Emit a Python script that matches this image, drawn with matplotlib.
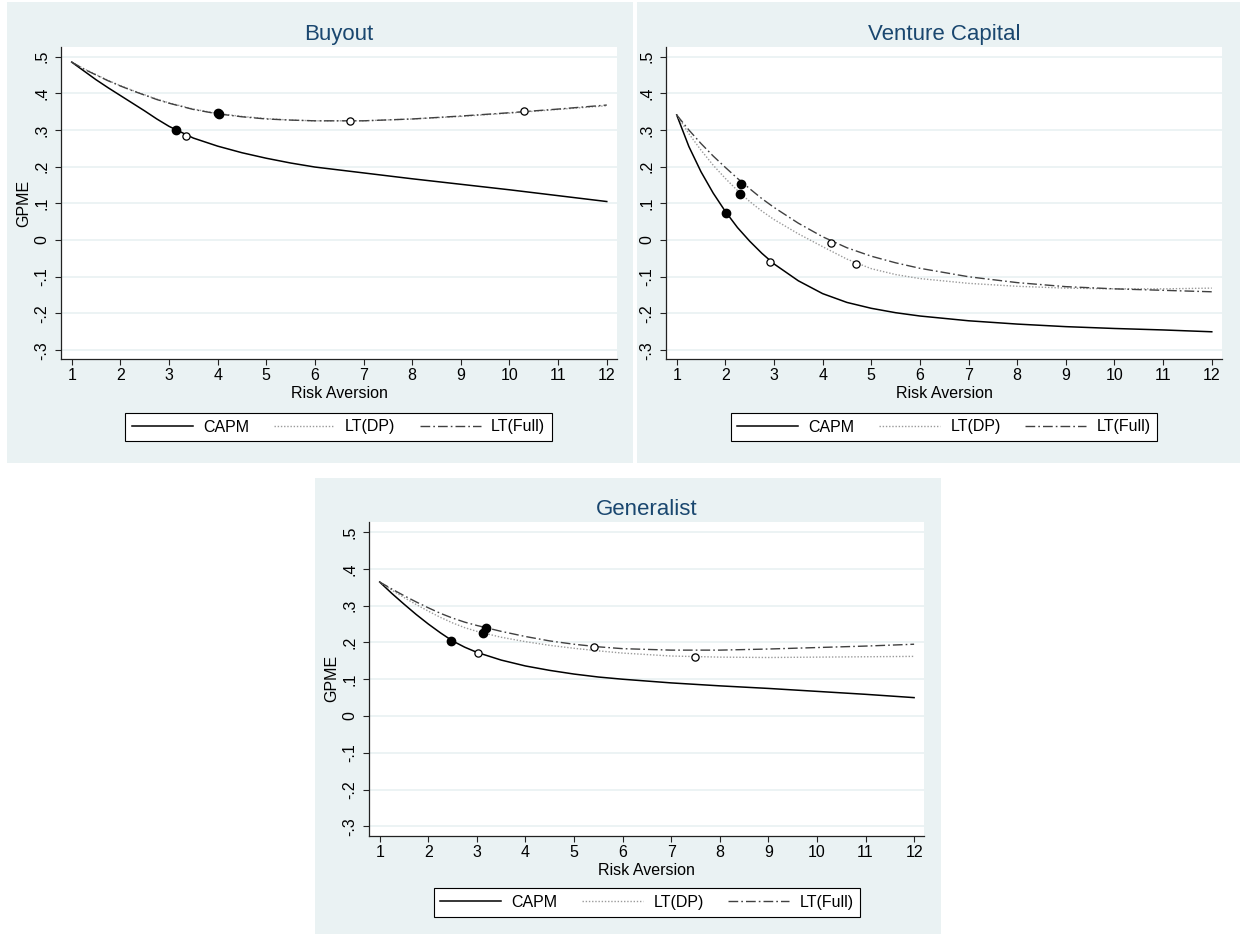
import matplotlib
matplotlib.use("Agg")
import matplotlib.pyplot as plt
from matplotlib.patches import Rectangle
from matplotlib.lines import Line2D

plt.rcParams['font.family'] = ['Liberation Sans', 'DejaVu Sans']

# ---------------- data ----------------
risk_aversion = [1, 1.25, 1.5, 1.75, 2, 2.25, 2.5, 2.75, 3, 3.5, 4, 4.5, 5, 5.5, 6, 7, 8, 9, 10, 11, 12]

buyout_capm = [0.485, 0.461, 0.437, 0.415, 0.394, 0.373, 0.352, 0.330, 0.310, 0.278, 0.256, 0.238, 0.223, 0.210, 0.199,
               0.183, 0.167, 0.152, 0.137, 0.121, 0.105]
buyout_dp   = [0.485, 0.467, 0.451, 0.435, 0.421, 0.408, 0.396, 0.384, 0.374, 0.357, 0.345, 0.337, 0.331, 0.327, 0.325,
               0.325, 0.330, 0.337, 0.346, 0.356, 0.366]
buyout_full = [0.485, 0.466, 0.450, 0.434, 0.420, 0.407, 0.395, 0.383, 0.373, 0.356, 0.344, 0.336, 0.330, 0.327, 0.325,
               0.325, 0.330, 0.338, 0.347, 0.357, 0.368]

vc_capm = [0.341, 0.255, 0.186, 0.128, 0.078, 0.034, -0.003, -0.036, -0.065, -0.111, -0.146, -0.170, -0.186, -0.198, -0.207,
           -0.220, -0.229, -0.236, -0.241, -0.245, -0.250]
vc_dp   = [0.341, 0.290, 0.245, 0.204, 0.168, 0.135, 0.105, 0.079, 0.056, 0.017, -0.018, -0.052, -0.078, -0.094, -0.105,
           -0.118, -0.126, -0.131, -0.133, -0.133, -0.131]
vc_full = [0.341, 0.300, 0.263, 0.229, 0.198, 0.168, 0.140, 0.113, 0.089, 0.046, 0.009, -0.021, -0.044, -0.062, -0.077,
           -0.100, -0.116, -0.127, -0.133, -0.137, -0.141]

gen_capm = [0.364, 0.333, 0.304, 0.276, 0.250, 0.226, 0.204, 0.187, 0.173, 0.152, 0.136, 0.124, 0.114, 0.106, 0.100,
            0.090, 0.082, 0.075, 0.067, 0.059, 0.050]
gen_dp   = [0.364, 0.342, 0.322, 0.303, 0.285, 0.268, 0.253, 0.240, 0.230, 0.214, 0.202, 0.192, 0.184, 0.177, 0.171,
            0.163, 0.160, 0.159, 0.160, 0.161, 0.162]
gen_full = [0.364, 0.345, 0.327, 0.310, 0.294, 0.279, 0.266, 0.255, 0.246, 0.230, 0.216, 0.204, 0.195, 0.188, 0.183,
            0.179, 0.179, 0.182, 0.186, 0.190, 0.195]

# estimated points: filled and hollow markers (CAPM, LT(DP), LT(Full))
buyout_filled_x = [3.15, 4.00, 4.03]
buyout_filled_y = [0.299, 0.345, 0.344]
buyout_hollow_x = [3.35, 6.73, 10.30]
buyout_hollow_y = [0.2845, 0.3245, 0.351]

vc_filled_x = [2.02, 2.30, 2.33]
vc_filled_y = [0.0745, 0.126, 0.152]
vc_hollow_x = [2.92, 4.68, 4.18]
vc_hollow_y = [-0.060, -0.066, -0.008]

gen_filled_x = [2.47, 3.13, 3.18]
gen_filled_y = [0.205, 0.225, 0.240]
gen_hollow_x = [3.03, 7.48, 5.42]
gen_hollow_y = [0.171, 0.159, 0.187]

titles = ["Buyout", "Venture Capital", "Generalist"]
series_labels = ["CAPM", "LT(DP)", "LT(Full)"]
x_ticks = list(range(1, 13))
y_ticks = [-0.3, -0.2, -0.1, 0.0, 0.1, 0.2, 0.3, 0.4, 0.5]
y_ticklabels = ["-.3", "-.2", "-.1", "0", ".1", ".2", ".3", ".4", ".5"]
x_title = "Risk Aversion"
y_title = "GPME"

# ---------------- styling ----------------
W, H = 1242, 935
BG = "#eaf2f3"
TITLE_C = "#1a476f"
AX_C = "#222222"
FS = 11.5

styles = [
    dict(color="black", lw=1.1, ls="-"),
    dict(color="#9a9a9a", lw=1.0, ls=(0, (1, 1.3))),
    dict(color="#404040", lw=1.0, ls=(0, (7, 2.2, 1.2, 2.2))),
]

fig = plt.figure(figsize=(W / 100, H / 100), dpi=100)
fig.patch.set_facecolor("white")


def frect(x0, y0, x1, y1):
    return [x0 / W, 1 - y1 / H, (x1 - x0) / W, (y1 - y0) / H]


panel_bgs = [(7, 2, 633, 463), (637, 2, 1240, 463), (315, 478, 941, 934)]
for (x0, y0, x1, y1) in panel_bgs:
    r = frect(x0, y0, x1, y1)
    fig.patches.append(Rectangle((r[0], r[1]), r[2], r[3], transform=fig.transFigure,
                                 facecolor=BG, edgecolor="none", zorder=-5))

axes_px = [(61, 46.7, 617, 359.3), (666, 46.7, 1222, 359.3), (369, 522, 924.3, 835.7)]
legend_px = [(338.5, 427), (944, 427), (647, 902.5)]

panels = [
    (buyout_capm, buyout_dp, buyout_full, buyout_filled_x, buyout_filled_y, buyout_hollow_x, buyout_hollow_y),
    (vc_capm, vc_dp, vc_full, vc_filled_x, vc_filled_y, vc_hollow_x, vc_hollow_y),
    (gen_capm, gen_dp, gen_full, gen_filled_x, gen_filled_y, gen_hollow_x, gen_hollow_y),
]

for i, (capm, dp, full, fx, fy, hx, hy) in enumerate(panels):
    ax = fig.add_axes(frect(*axes_px[i]))
    ax.set_zorder(1)
    ax.set_facecolor("white")
    for s, yv in zip(styles, [capm, dp, full]):
        ax.plot(risk_aversion, yv, color=s["color"], lw=s["lw"], linestyle=s["ls"], zorder=3,
                solid_joinstyle="round")
    ax.plot(fx, fy, "o", color="black", markersize=6, zorder=5, linestyle="none")
    ax.plot(hx, hy, "o", markerfacecolor="white", markeredgecolor="black", markeredgewidth=0.9,
            markersize=5.2, zorder=5, linestyle="none")

    ax.set_xlim(0.78, 12.21)
    ax.set_ylim(-0.325, 0.527)
    ax.set_xticks(x_ticks)
    ax.set_xticklabels([str(t) for t in x_ticks], fontsize=FS)
    ax.set_yticks(y_ticks)
    ax.set_yticklabels(y_ticklabels, fontsize=FS, rotation=90, va="center")
    ax.grid(axis="y", color=BG, lw=1.3, zorder=0)
    ax.set_axisbelow(True)
    for sp in ["top", "right"]:
        ax.spines[sp].set_visible(False)
    for sp in ["left", "bottom"]:
        ax.spines[sp].set_color(AX_C)
        ax.spines[sp].set_linewidth(0.9)
    ax.tick_params(axis="both", direction="out", length=4.5, width=0.8, color=AX_C, labelcolor="black")
    ax.tick_params(axis="y", pad=4)
    ax.tick_params(axis="x", pad=2)
    ax.set_xlabel(x_title, fontsize=FS, labelpad=2)
    if i != 1:
        ax.set_ylabel(y_title, fontsize=FS, labelpad=2)
    ax.set_title(titles[i], color=TITLE_C, fontsize=16, pad=5)

    handles = [Line2D([0], [0], color=s["color"], lw=s["lw"], linestyle=s["ls"]) for s in styles]
    cx, cy = legend_px[i]
    leg = fig.legend(handles, series_labels, loc="center", bbox_to_anchor=(cx / W, 1 - cy / H),
                     bbox_transform=fig.transFigure, ncol=3, fontsize=FS, frameon=True,
                     fancybox=False, edgecolor="black", facecolor="white", framealpha=1,
                     handlelength=3.8, handletextpad=0.65, columnspacing=1.55, borderpad=0.42)
    leg.set_zorder(2)
    leg.get_frame().set_linewidth(0.8)

fig.savefig("out.png", dpi=100, facecolor="white")
